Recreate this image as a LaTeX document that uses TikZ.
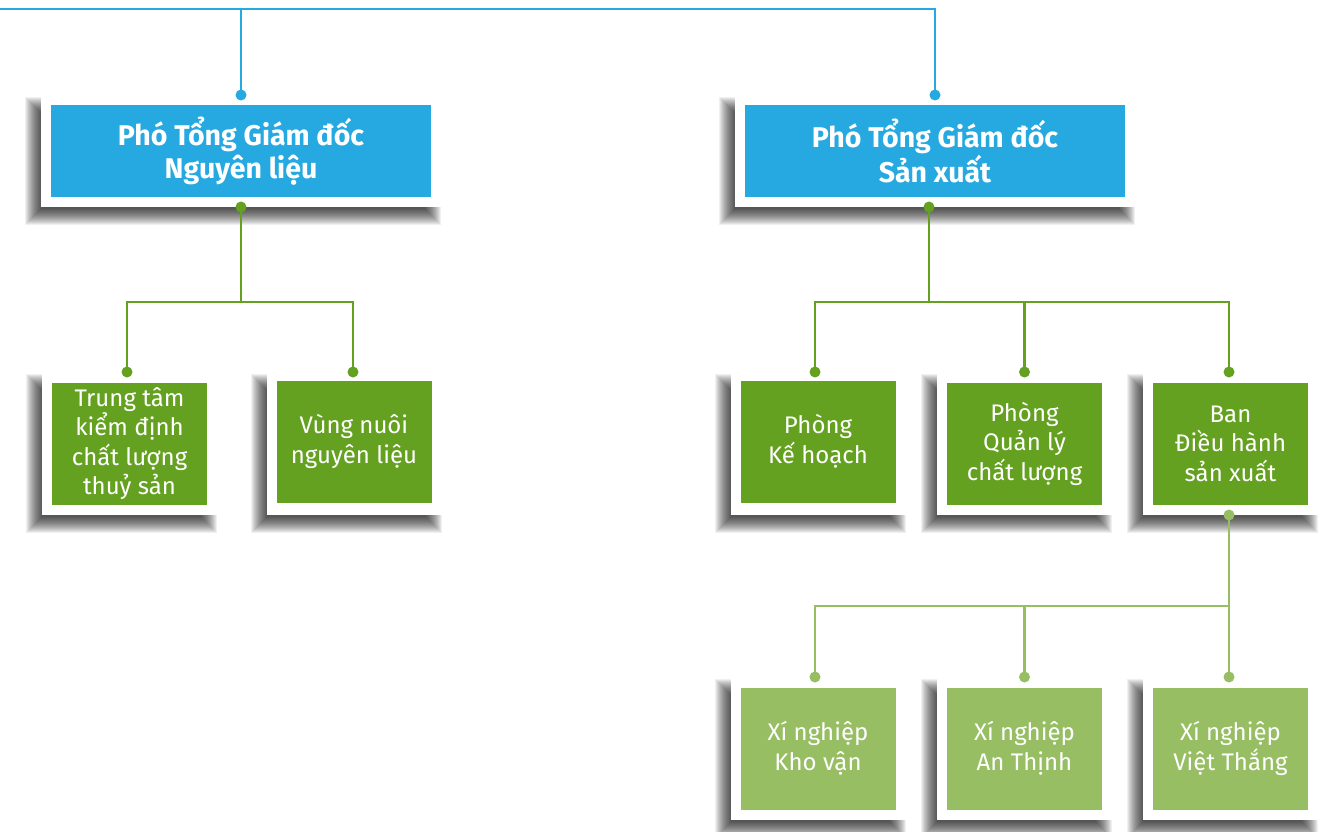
\documentclass[tikz,border=0pt]{standalone}
\usepackage{fontspec}
\setmainfont{Fira Sans}
\definecolor{blueC}{HTML}{26A9E0}
\definecolor{greenD}{HTML}{65A121}
\definecolor{greenL}{HTML}{97BE63}
\pgfdeclarelayer{background}
\pgfsetlayers{background,main}
\tikzset{
  frame/.style={rectangle, fill=white, draw=none, inner sep=0pt, outer sep=0pt},
  bigframe/.style={frame, minimum width=400pt, minimum height=112pt},
  smallframe/.style={frame, minimum width=175pt, minimum height=143pt},
  bluebox/.style={rectangle, fill=blueC, text=white, align=center, inner sep=0pt,
    minimum width=380pt, minimum height=92pt, font=\fontsize{28.5}{33}\selectfont\bfseries},
  gbox/.style={rectangle, fill=greenD, text=white, align=center, inner sep=0pt,
    minimum width=155pt, minimum height=122pt, font=\fontsize{24}{29.5}\selectfont},
  lgbox/.style={gbox, fill=greenL},
  shadowfill/.style={fill=black, opacity=0.06},
  bline/.style={draw=blueC, line width=2.4pt},
  gline/.style={draw=greenD, line width=2.4pt},
  lline/.style={draw=greenL, line width=2.4pt},
}
\newcommand\boxshadow[1]{%
  \foreach \e [evaluate=\e as \xa using -8-\e, evaluate=\e as \ya using 10+\e,
               evaluate=\e as \xb using -8+\e, evaluate=\e as \yb using 10-\e] in {-8,-7,...,8}
    \fill[shadowfill] ([shift={(\xa,\ya)}]#1.south west) rectangle ([shift={(\xb,\yb)}]#1.north east);}
\begin{document}
\begin{tikzpicture}[x=1pt,y=-1pt]
\begin{pgfonlayer}{background}
\fill[white] (0,0) rectangle (1318,832);
\end{pgfonlayer}
\useasboundingbox (0,0) rectangle (1318,832);
% level 1
\node[bigframe] (f1) at (241,151) {};
\node[bluebox] (b1) at (f1) {Phó Tổng Giám đốc\\Nguyên liệu};
\node[bigframe] (f2) at (935,151) {};
\node[bluebox] (b2) at (f2) {Phó Tổng Giám đốc\\Sản xuất};
% level 2 left
\node[smallframe] (f11) at (129.5,443.5) {};
\node[gbox] (b11) at (f11) {Trung tâm\\kiểm định\\chất lượng\\thuỷ sản};
\node[smallframe] (f12) at (354,443.5) {};
\node[gbox] (b12) at ([yshift=2pt]f12) {Vùng nuôi\\nguyên liệu};
% level 2 right
\node[smallframe] (f21) at (818,443.5) {};
\node[gbox] (b21) at ([yshift=2pt]f21) {Phòng\\Kế hoạch};
\node[smallframe] (f22) at (1024.5,443.5) {};
\node[gbox] (b22) at (f22) {Phòng\\Quản lý\\chất lượng};
\node[smallframe] (f23) at (1230.5,443.5) {};
\node[gbox] (b23) at (f23) {Ban\\Điều hành\\sản xuất};
% level 3
\node[smallframe] (f31) at (818,748.5) {};
\node[lgbox] (b31) at (f31) {Xí nghiệp\\Kho vận};
\node[smallframe] (f32) at (1024.5,748.5) {};
\node[lgbox] (b32) at (f32) {Xí nghiệp\\An Thịnh};
\node[smallframe] (f33) at (1230.5,748.5) {};
\node[lgbox] (b33) at (f33) {Xí nghiệp\\Việt Thắng};
% shadows
\begin{pgfonlayer}{background}
\foreach \n in {f1,f2,f11,f12,f21,f22,f23,f31,f32,f33} {\boxshadow{\n}}
\end{pgfonlayer}
% junctions
\coordinate (top) at (0,9);
\coordinate (d1) at (241,207);
\coordinate (d2) at (929,207);
\coordinate (j1) at (241,302);
\coordinate (j2) at (929,302);
\coordinate (j3) at (1229,606);
\coordinate (d3) at (1229,515);
% connectors
\draw[bline] (top) -| (f2.north);
\draw[bline] (f1.north |- top) -- (f1.north);
\draw[gline] (d1) -- (j1);
\draw[gline] (j1) -| ([xshift=-2.5pt]f11.north);
\draw[gline] (j1) -| ([xshift=-1pt]f12.north);
\draw[gline] (d2) -- (j2);
\draw[gline] (j2) -| ([xshift=-3pt]f21.north);
\draw[gline] (j2) -| (f22.north);
\draw[gline] (j2) -| ([xshift=-1.5pt]f23.north);
\draw[lline] (d3) -- (j3);
\draw[lline] (j3) -| ([xshift=-3pt]f31.north);
\draw[lline] (j3) -| (f32.north);
\draw[lline] (j3) -- ([xshift=-1.5pt]f33.north);
% dots
\foreach \n in {f1,f2} \fill[blueC] (\n.north) circle (5.5pt);
\fill[greenD] (d1) circle (5.5pt);
\fill[greenD] (d2) circle (5.5pt);
\fill[greenD] ([xshift=-2.5pt]f11.north) circle (5.5pt);
\fill[greenD] ([xshift=-1pt]f12.north) circle (5.5pt);
\fill[greenD] ([xshift=-3pt]f21.north) circle (5.5pt);
\fill[greenD] (f22.north) circle (5.5pt);
\fill[greenD] ([xshift=-1.5pt]f23.north) circle (5.5pt);
\fill[greenL] (d3) circle (5.5pt);
\fill[greenL] ([xshift=-3pt]f31.north) circle (5.5pt);
\fill[greenL] (f32.north) circle (5.5pt);
\fill[greenL] ([xshift=-1.5pt]f33.north) circle (5.5pt);
\end{tikzpicture}
\end{document}
